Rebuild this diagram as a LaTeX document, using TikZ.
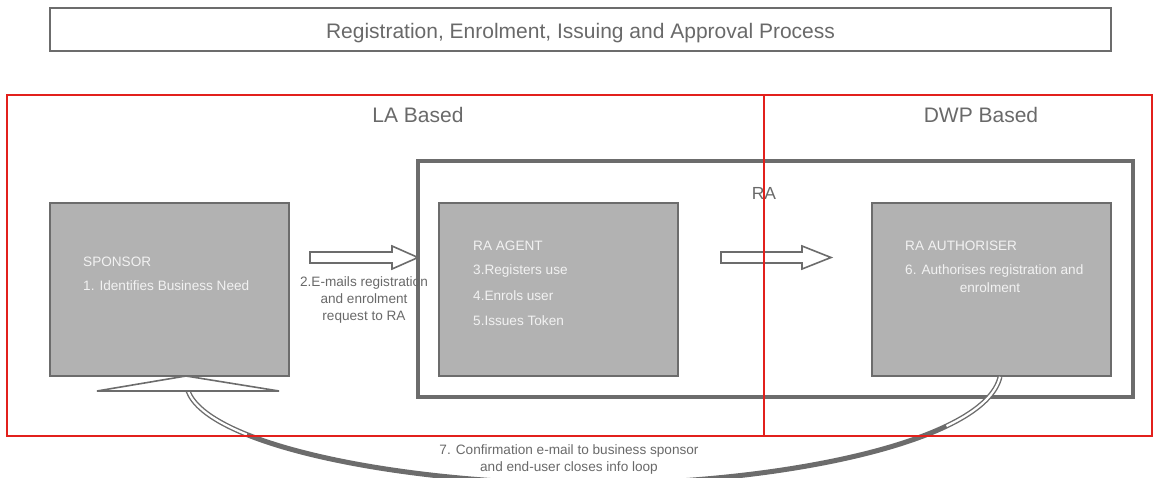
\documentclass[tikz,border=0pt]{standalone}
\usepackage{fontspec}
\setmainfont{Liberation Sans}
\usepackage{tikz}
\usetikzlibrary{positioning,calc}

\definecolor{regionred}{RGB}{226,32,28}
\definecolor{edgegray}{RGB}{108,108,108}
\definecolor{fillgray}{RGB}{178,178,178}
\definecolor{labelgray}{RGB}{105,105,105}
\definecolor{intextgray}{RGB}{242,242,242}

\begin{document}
\begin{tikzpicture}[x=1pt, y=-1pt,
    region/.style={draw=regionred, line width=1.6pt, inner sep=0pt},
    procbox/.style={draw=edgegray, fill=fillgray, line width=1.6pt, minimum width=239pt, minimum height=173pt, inner sep=0pt},
    bigtext/.style={text=labelgray, font=\fontsize{21}{25}\selectfont, inner sep=0pt},
    intext/.style={text=intextgray, font=\fontsize{13.6}{16}\selectfont, inner sep=0pt, anchor=base west},
    smalltext/.style={text=labelgray, font=\fontsize{13.6}{16}\selectfont, inner sep=0pt, anchor=base},
    blockarrow/.style={draw=edgegray, fill=white, line width=1.6pt, line join=miter},
    loopband/.style={draw=edgegray, line width=5pt},
    loopinner/.style={draw=white, line width=2.2pt, dash pattern=on 75pt off 1000pt}]
    \useasboundingbox (0,0) rectangle (1153,478);

    % Title
    \node[draw=edgegray, line width=2pt, minimum width=1061pt, minimum height=43pt, inner sep=0pt,
          text height=19pt, text depth=0pt,
          text=labelgray, font=\fontsize{21}{25}\selectfont] (title) at (580.5,29.5)
          {Registration, Enrolment, Issuing and Approval Process};

    % Region labels
    \node[bigtext] (lalabel) at (418,115) {LA Based};
    \node[bigtext] (dwplabel) at (981,115) {DWP Based};

    % RA group
    \node[draw=edgegray, line width=4pt, minimum width=715pt, minimum height=236pt, inner sep=0pt] (ra) at (775.5,279) {};
    \node[bigtext, font=\fontsize{17.5}{20}\selectfont] (ralabel) at (764,193) {RA};

    % Boxes
    \node[procbox] (sponsor) at (169.5,289.5) {};
    \node[procbox] (agent) at (558.5,289.5) {};
    \node[procbox] (auth) at (991.5,289.5) {};

    % Box texts
    \node[intext] (sp1) at (83,266) {SPONSOR};
    \node[intext] (sp2) at (83,290) {1. Identifies Business Need};

    \node[intext] (ag1) at (473,251) {RA AGENT};
    \node[intext] (ag2) at (473,275) {3.Registers use};
    \node[intext] (ag3) at (473,300) {4.Enrols user};
    \node[intext] (ag4) at (473,325) {5.Issues Token};

    \node[intext] (au1) at (905,251) {RA AUTHORISER};
    \node[intext] (au2) at (905,275) {6. Authorises registration and};
    \node[intext, anchor=base] (au3) at (990,292) {enrolment};

    % Step 2 label
    \node[smalltext] (em1) at (364,287) {2.E-mails registration};
    \node[smalltext] (em2) at (364,303) {and enrolment};
    \node[smalltext] (em3) at (364,320) {request to RA};

    % Block arrows
    \draw[blockarrow] (310,252) -- (392,252) -- (392,246) -- (418,257.5) -- (392,269) -- (392,263) -- (310,263) -- cycle;
    \draw[blockarrow] (721,252) -- (802,252) -- (802,246) -- (831,257.5) -- (802,269) -- (802,263) -- (721,263) -- cycle;

    % Return loop
    \coordinate (loopL) at (188,391);
    \coordinate (loopB) at (590,484);
    \coordinate (loopR) at ($(auth.south)+(8.5,0)$);
    \draw[loopband] (loopL) .. controls (208,445) and (400,484) .. (loopB)
                    .. controls (780,484) and (985,442) .. (loopR);
    \draw[loopinner] (loopL) .. controls (208,445) and (400,484) .. (loopB);
    \draw[loopinner] (loopR) .. controls (985,442) and (780,484) .. (loopB);
    \draw[blockarrow] (97,391) -- (186,376) -- (279,391) -- cycle;

    \node[smalltext] (conf1) at (569,454) {7. Confirmation e-mail to business sponsor};
    \node[smalltext] (conf2) at (569,471) {and end-user closes info loop};

    % Regions
    \node[region, minimum width=757pt, minimum height=341pt] (laregion) at (385.5,265.5) {};
    \node[region, minimum width=388pt, minimum height=341pt] (dwpregion) at (958,265.5) {};

\end{tikzpicture}
\end{document}
